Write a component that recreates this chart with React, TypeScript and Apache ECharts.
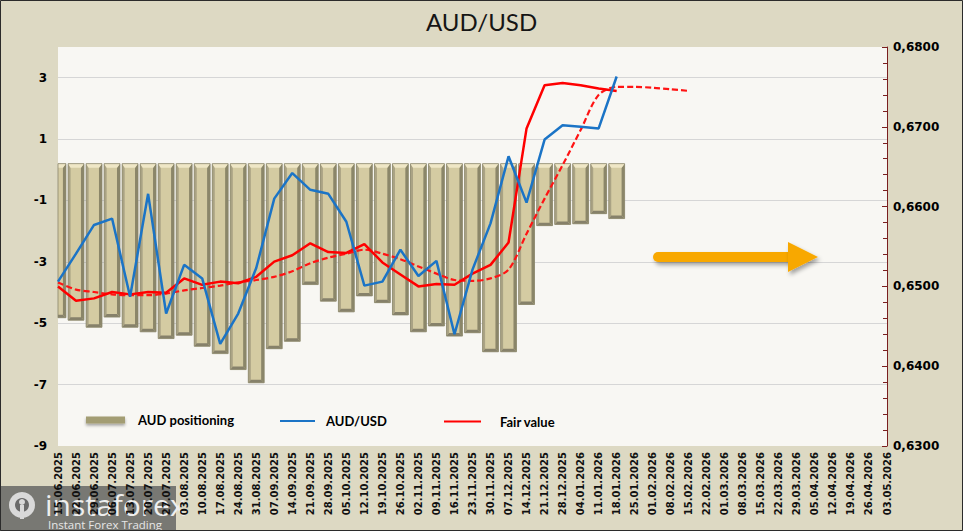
import React, { useEffect, useRef } from "react";
import * as echarts from "echarts";

const categories = [
  "15.06.2025", "22.06.2025", "29.06.2025", "06.07.2025", "13.07.2025", "20.07.2025", "27.07.2025",
  "03.08.2025", "10.08.2025", "17.08.2025", "24.08.2025", "31.08.2025", "07.09.2025", "14.09.2025",
  "21.09.2025", "28.09.2025", "05.10.2025", "12.10.2025", "19.10.2025", "26.10.2025", "02.11.2025",
  "09.11.2025", "16.11.2025", "23.11.2025", "30.11.2025", "07.12.2025", "14.12.2025", "21.12.2025",
  "28.12.2025", "04.01.2026", "11.01.2026", "18.01.2026", "25.01.2026", "01.02.2026", "08.02.2026",
  "15.02.2026", "22.02.2026", "01.03.2026", "08.03.2026", "15.03.2026", "22.03.2026", "29.03.2026",
  "05.04.2026", "12.04.2026", "19.04.2026", "26.04.2026", "03.05.2026",
];

const positioning = [
  -4.82, -4.9, -5.13, -4.8, -5.13, -5.28, -5.5, -5.39, -5.75, -5.99, -6.51, -6.94, -5.83, -5.59,
  -3.74, -4.28, -4.63, -4.11, -4.33, -4.73, -5.28, -5.09, -5.42, -5.31, -5.93, -5.93, -4.39,
  -1.82, -1.78, -1.76, -1.43, -1.59,
];

const audUsd = [
  0.6506, 0.6541, 0.6577, 0.6585, 0.6487, 0.6616, 0.6466, 0.6527, 0.651, 0.6428, 0.6466, 0.6523,
  0.661, 0.6642, 0.6621, 0.6616, 0.6581, 0.6501, 0.6506, 0.6546, 0.6513, 0.6532, 0.644, 0.6521,
  0.6579, 0.6663, 0.6605, 0.6684, 0.6702, 0.67, 0.6698, 0.6763,
];

const fairValue = [
  0.65, 0.6482, 0.6485, 0.6493, 0.649, 0.6493, 0.6492, 0.651, 0.6502, 0.6506, 0.6504, 0.6512,
  0.6531, 0.6539, 0.6554, 0.6543, 0.6542, 0.6553, 0.653, 0.6515, 0.65, 0.6503, 0.6502, 0.6516,
  0.6527, 0.6555, 0.6698, 0.6752, 0.6755, 0.6752, 0.6748, 0.6745,
];

const fairValueForecast = [
  0.6505, 0.6496, 0.6493, 0.649, 0.6489, 0.6489, 0.6491, 0.6495, 0.6498, 0.6501, 0.6505, 0.6508,
  0.6512, 0.6519, 0.6529, 0.6536, 0.6541, 0.6546, 0.6541, 0.6534, 0.6525, 0.6516, 0.6508, 0.6507,
  0.651, 0.6521, 0.6566, 0.661, 0.6652, 0.6696, 0.674, 0.675, 0.675, 0.6749, 0.6747, 0.6745,
];

const BAR_BASE = 0.2;
const LEFT_MIN = -9;
const LEFT_MAX = 4;
const RIGHT_MIN = 0.63;
const RIGHT_MAX = 0.68;

const AXIS_FONT = "DejaVu Sans";
const TEXT_FONT = "Lato";

function renderBar(params: any, api: any) {
  const i = api.value(0);
  const v = api.value(1);
  const top = api.coord([i, BAR_BASE]);
  const bot = api.coord([i, v]);
  const w = api.size([1, 0])[0] * 0.88;
  const cs = params.coordSys;
  let x0 = top[0] - w / 2;
  let x1 = top[0] + w / 2;
  const clippedLeft = x0 < cs.x;
  const clippedRight = x1 > cs.x + cs.width;
  x0 = Math.max(x0, cs.x);
  x1 = Math.min(x1, cs.x + cs.width);
  const y0 = top[1];
  const y1 = bot[1];
  const h = y1 - y0;
  const children: any[] = [
    {
      type: "rect",
      shape: { x: x0, y: y0, width: x1 - x0, height: h },
      style: { fill: "#d4cba2" },
    },
  ];
  if (!clippedLeft) {
    children.push({
      type: "polygon",
      shape: { points: [[x0, y0], [x0 + 2.5, y0 + 4], [x0 + 2.5, y1 - 3], [x0, y1]] },
      style: { fill: "#aaa384" },
    });
  }
  if (!clippedRight) {
    children.push({
      type: "polygon",
      shape: { points: [[x1, y0], [x1 - 3, y0 + 4], [x1 - 3, y1 - 3], [x1, y1]] },
      style: { fill: "#8b8669" },
    });
  }
  children.push({
    type: "polygon",
    shape: {
      points: [[x0, y0], [x1, y0], [x1 - (clippedRight ? 0 : 3), y0 + 4], [x0 + (clippedLeft ? 0 : 2.5), y0 + 4]],
    },
    style: { fill: "#efe7c6" },
  });
  children.push({
    type: "polygon",
    shape: {
      points: [[x0, y1], [x1, y1], [x1 - (clippedRight ? 0 : 3), y1 - 3], [x0 + (clippedLeft ? 0 : 2.5), y1 - 3]],
    },
    style: { fill: "#86816a" },
  });
  children.push({
    type: "rect",
    shape: { x: x0, y: y0, width: x1 - x0, height: h },
    style: { fill: "none", stroke: "#8a866c", lineWidth: 0.8 },
  });
  return { type: "group", children };
}

export default function App() {
  const ref = useRef<HTMLDivElement>(null);

  useEffect(() => {
    if (!ref.current) return;
    const chart = echarts.init(ref.current, null, { renderer: "svg" });

    const leftSplitColors = ["rgba(0,0,0,0)", "#d6d6d6", "#d6d6d6", "#d6d6d6", "#d6d6d6", "#d6d6d6", "#d6d6d6", "rgba(0,0,0,0)"];

    const legendText = {
      fontFamily: TEXT_FONT,
      fontWeight: "bold",
      fontSize: 13,
      lineHeight: 16,
      color: "#000",
    };

    const option: any = {
      animation: false,
      backgroundColor: "#ddd9c3",
      title: {
        text: "AUD/USD",
        left: "center",
        top: 4,
        textStyle: { fontFamily: TEXT_FONT, fontWeight: "normal", fontSize: 24, color: "#151515" },
      },
      grid: {
        left: 58,
        right: 76,
        top: 47,
        bottom: 85,
        show: true,
        backgroundColor: "#f8f7f3",
        borderWidth: 0,
      },
      legend: [
        {
          data: [
            {
              name: "AUD positioning",
              icon: "rect",
              itemStyle: { color: "#a39d73", shadowBlur: 3, shadowColor: "rgba(0,0,0,0.35)", shadowOffsetY: 2 },
            },
          ],
          left: 86,
          top: 412,
          padding: 0,
          itemWidth: 39,
          itemHeight: 7,
          selectedMode: false,
          textStyle: { ...legendText, padding: [0, 0, 0, 8] },
        },
        {
          data: [{ name: "AUD/USD", icon: "rect" }],
          left: 280,
          top: 413,
          padding: 0,
          itemWidth: 35,
          itemHeight: 2,
          selectedMode: false,
          textStyle: { ...legendText, padding: [0, 0, 0, 6] },
        },
        {
          data: [{ name: "Fair value", icon: "rect" }],
          left: 444,
          top: 413.5,
          padding: 0,
          itemWidth: 37,
          itemHeight: 2,
          selectedMode: false,
          textStyle: { ...legendText, padding: [0, 0, 0, 14] },
        },
      ],
      xAxis: {
        type: "category",
        data: categories,
        boundaryGap: false,
        axisLine: { show: false },
        axisTick: { show: false },
        splitLine: { show: false },
        axisLabel: {
          interval: 0,
          rotate: 90,
          margin: 6,
          fontFamily: AXIS_FONT,
          fontWeight: "bold",
          fontSize: 10,
          color: "#111",
        },
      },
      yAxis: [
        {
          type: "value",
          position: "left",
          min: LEFT_MIN,
          max: LEFT_MAX,
          interval: 2,
          axisLine: { show: false },
          axisTick: { show: false },
          splitLine: { show: true, lineStyle: { color: leftSplitColors, width: 1 } },
          axisLabel: {
            margin: 11,
            fontFamily: AXIS_FONT,
            fontWeight: "bold",
            fontSize: 12,
            color: "#000",
            formatter: (v: number) => (v === LEFT_MAX ? "" : String(v)),
          },
        },
        {
          type: "value",
          position: "right",
          min: RIGHT_MIN,
          max: RIGHT_MAX,
          interval: 0.01,
          axisLine: { show: true, lineStyle: { color: "#7a1f1f", width: 1 } },
          axisTick: { show: true, inside: true, length: 5, lineStyle: { color: "#7a1f1f" } },
          minorTick: { show: true, splitNumber: 5, length: 4, lineStyle: { color: "#7a1f1f" } },
          splitLine: { show: false },
          axisLabel: {
            margin: 6,
            fontFamily: AXIS_FONT,
            fontWeight: "bold",
            fontSize: 12,
            color: "#000",
            formatter: (v: number) => v.toFixed(4).replace(".", ","),
          },
        },
      ],
      series: [
        {
          name: "AUD positioning",
          type: "custom",
          yAxisIndex: 0,
          z: 2,
          itemStyle: { color: "#a39d73" },
          renderItem: renderBar,
          encode: { x: 0, y: 1 },
          data: positioning.map((v, i) => [i, v]),
        },
        {
          name: "Fair value forecast",
          type: "line",
          yAxisIndex: 1,
          z: 3,
          symbol: "none",
          smooth: 0.3,
          lineStyle: { color: "#ff1414", width: 2.2, type: [6, 3] },
          itemStyle: { color: "#ff1414" },
          data: fairValueForecast,
        },
        {
          name: "Fair value",
          type: "line",
          yAxisIndex: 1,
          z: 4,
          symbol: "none",
          lineStyle: { color: "#ff0000", width: 2.5 },
          itemStyle: { color: "#ff0000" },
          data: fairValue,
        },
        {
          name: "AUD/USD",
          type: "line",
          yAxisIndex: 1,
          z: 5,
          symbol: "none",
          lineStyle: { color: "#1b74c6", width: 2.5 },
          itemStyle: { color: "#1b74c6" },
          data: audUsd,
        },
      ],
      graphic: [
        {
          type: "rect",
          z: 10,
          shape: { x: 653, y: 252, width: 140, height: 10, r: 5 },
          style: {
            fill: "#f8a800",
            shadowBlur: 4,
            shadowColor: "rgba(0,0,0,0.35)",
            shadowOffsetX: 2,
            shadowOffsetY: 3,
          },
        },
        {
          type: "polygon",
          z: 10,
          shape: { points: [[788, 242], [818, 257], [788, 272]] },
          style: {
            fill: "#f8a800",
            shadowBlur: 4,
            shadowColor: "rgba(0,0,0,0.35)",
            shadowOffsetX: 2,
            shadowOffsetY: 3,
          },
        },
        {
          type: "group",
          z: 20,
          children: [
            {
              type: "rect",
              shape: { x: 0, y: 486, width: 176, height: 45 },
              style: { fill: "rgba(95,95,95,0.8)" },
            },
            {
              type: "circle",
              shape: { cx: 22, cy: 505, r: 13 },
              style: { fill: "#d9d9d9" },
            },
            {
              type: "circle",
              shape: { cx: 22, cy: 505, r: 7 },
              style: { fill: "#6a6a6a" },
            },
            {
              type: "circle",
              shape: { cx: 22, cy: 502, r: 3 },
              style: { fill: "#d9d9d9" },
            },
            {
              type: "rect",
              shape: { x: 20, y: 505, width: 4, height: 14 },
              style: { fill: "#d9d9d9" },
            },
            {
              type: "text",
              style: {
                text: "instaforex",
                x: 45,
                y: 519,
                verticalAlign: "bottom",
                fill: "#eeeeee",
                font: "400 30px 'Open Sans'",
              },
            },
            {
              type: "text",
              style: {
                text: "Instant Forex Trading",
                x: 48,
                y: 518,
                fill: "#e6e6e6",
                font: "11.5px 'Open Sans'",
              },
            },
          ],
        },
        {
          type: "rect",
          z: 30,
          shape: { x: 0.5, y: 0.5, width: 962, height: 530 },
          style: { fill: "none", stroke: "#2b2b2b", lineWidth: 1 },
        },
      ],
    };

    chart.setOption(option);
    return () => chart.dispose();
  }, []);

  return (
    <div
      ref={ref}
      style={{ position: "fixed", left: 0, top: 0, width: 963, height: 531 }}
    />
  );
}
